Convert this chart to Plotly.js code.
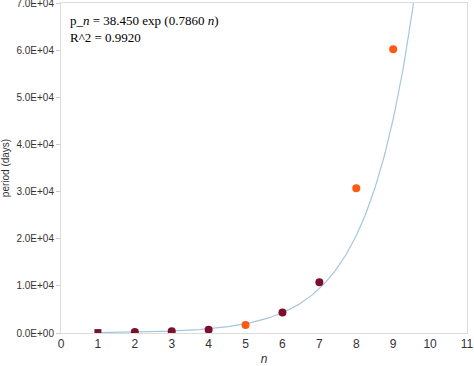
<!DOCTYPE html>
<html><head><meta charset="utf-8">
<script src="https://cdn.plot.ly/plotly-3.0.1.min.js"></script>
<style>body{margin:0;padding:0;background:#fff}#c{width:474px;height:366px}</style>
</head><body><div id="c"></div>
<script>
// Data
const nKnown = [1, 2, 3, 4, 6, 7];
const pKnown = [88, 225, 365, 687, 4333, 10759];
const nOther = [5, 8, 9];
const pOther = [1682, 30687, 60190];
// Fit parameters (from the chart annotation)
const fitA = 38.450;
const fitB = 0.7860;
const yTickVals = [0, 10000, 20000, 30000, 40000, 50000, 60000, 70000];
const yTickText = ["0.0E+00","1.0E+04","2.0E+04","3.0E+04","4.0E+04","5.0E+04","6.0E+04","7.0E+04"];
const xTickVals = [0,1,2,3,4,5,6,7,8,9,10,11];

const fitX = [], fitY = [];
for (let i = 0; i <= 200; i++) {
  const x = 1 + i * (9.6 - 1) / 200;
  fitX.push(x); fitY.push(fitA * Math.exp(fitB * x));
}

const traces = [
  {x: fitX, y: fitY, mode: 'lines', line: {color: '#a6c6de', width: 1.2}, hoverinfo: 'skip'},
  {x: [nKnown[0]], y: [pKnown[0]], mode: 'markers', marker: {symbol: 'square', size: 7, color: '#7d0f2c'}},
  {x: nKnown.slice(1), y: pKnown.slice(1), mode: 'markers', marker: {symbol: 'circle', size: 8, color: '#7d0f2c'}},
  {x: nOther, y: pOther, mode: 'markers', marker: {symbol: 'circle', size: 8, color: '#ff5a14'}}
];

const layout = {
  width: 474, height: 366,
  margin: {l: 61, r: 7, t: 3, b: 33},
  showlegend: false,
  paper_bgcolor: '#fff', plot_bgcolor: '#fff',
  font: {family: 'Liberation Sans, Arial, sans-serif', size: 11, color: '#333'},
  xaxis: {
    range: [0, 11], tickvals: xTickVals, ticktext: xTickVals.map(String),
    showgrid: false, zeroline: false, showline: true, linecolor: '#dcdcdc', mirror: true,
    ticks: '', tickfont: {size: 12, color: '#333'},
    title: {text: '<i>n</i>', font: {family: 'Liberation Sans, Arial, sans-serif', size: 12, color: '#333'}, standoff: 9}
  },
  yaxis: {
    range: [0, 70000], tickvals: yTickVals, ticktext: yTickText,
    showgrid: false, zeroline: false, showline: true, linecolor: '#dcdcdc', mirror: true,
    ticks: 'outside', ticklen: 4, tickcolor: '#cccccc', tickfont: {size: 10, color: '#333'},
    ticklabeloverflow: 'allow',
    title: {text: 'period (days)', font: {family: 'Liberation Sans, Arial, sans-serif', size: 10, color: '#333'}, standoff: 4}
  },
  annotations: [{
    xref: 'paper', yref: 'paper', x: 0.018, y: 0.975, xanchor: 'left', yanchor: 'top', align: 'left',
    showarrow: false,
    text: 'p_<i>n</i> = 38.450 exp (0.7860 <i>n</i>)<br>R^2 = 0.9920',
    font: {family: 'Liberation Serif, Times New Roman, serif', size: 13, color: '#000'}
  }]
};
Plotly.newPlot('c', traces, layout, {staticPlot: true});
</script></body></html>
